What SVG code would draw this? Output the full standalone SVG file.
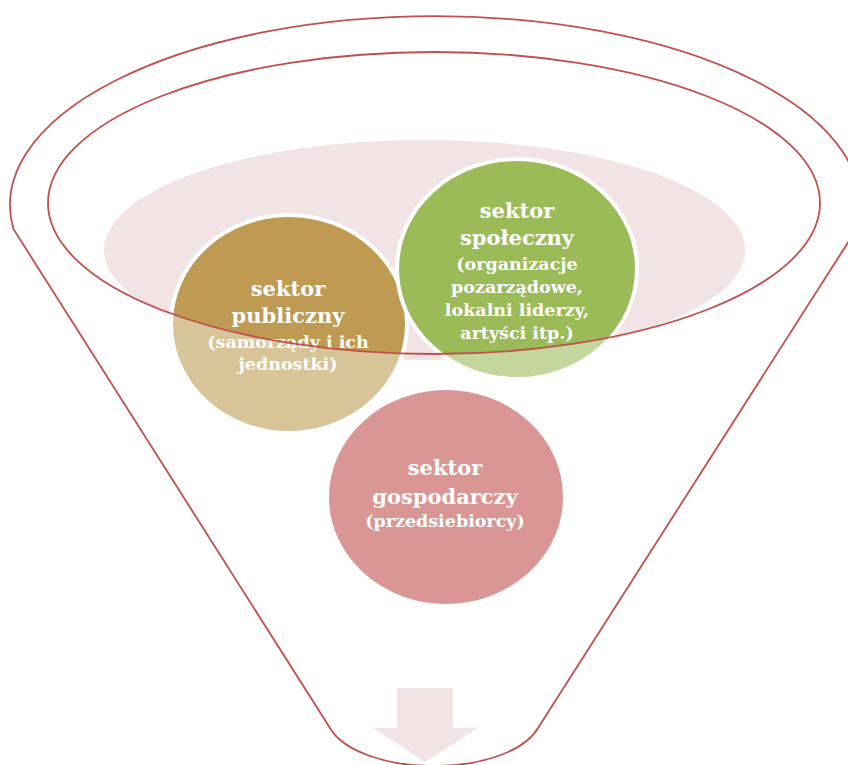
<svg xmlns="http://www.w3.org/2000/svg" width="848" height="765" viewBox="0 0 848 765">
  <style>
    .line { fill: none; stroke: #C0504D; stroke-width: 1.8; }
    .ring { fill: none; stroke: #FFFFFF; stroke-width: 4; }
    .t { font-family: "DejaVu Serif", "Liberation Serif", serif; font-weight: bold; fill: #FFFFFF; text-anchor: middle; }
    .h { font-size: 21px; }
    .s { font-size: 17.5px; }
  </style>
  <defs>
    <clipPath id="inner">
      <ellipse cx="434" cy="203" rx="386" ry="151"/>
    </clipPath>
  </defs>
  <rect width="848" height="765" fill="#FFFFFF"/>
  <g id="funnel">
    <path class="line" d="M13.4,229 A425,189 0 1 1 856.6,229 L538,728 C524,752 480,766 434,766 C388,766 344,752 330,728 Z"/>
  </g>
  <g id="pool">
    <ellipse cx="424.5" cy="250" rx="320.5" ry="110" fill="#F2E4E4"/>
  </g>
  <g id="node-publiczny">
    <ellipse cx="289" cy="324" rx="118" ry="109" fill="#D8C499"/>
    <ellipse cx="289" cy="324" rx="118" ry="109" fill="#BE9A52" clip-path="url(#inner)"/>
    <ellipse class="ring" cx="289" cy="324" rx="118" ry="109"/>
    <text class="t h" x="288" y="296">sektor</text>
    <text class="t h" x="288" y="323">publiczny</text>
    <text class="t s" x="288" y="348">(samorządy i ich</text>
    <text class="t s" x="288" y="370">jednostki)</text>
  </g>
  <g id="node-spoleczny">
    <ellipse cx="517" cy="269" rx="120" ry="110" fill="#C3D69B"/>
    <ellipse cx="517" cy="269" rx="120" ry="110" fill="#9BBB59" clip-path="url(#inner)"/>
    <ellipse class="ring" cx="517" cy="269" rx="120" ry="110"/>
    <text class="t h" x="517" y="218">sektor</text>
    <text class="t h" x="517" y="245">społeczny</text>
    <text class="t s" x="517" y="270">(organizacje</text>
    <text class="t s" x="517" y="293">pozarządowe,</text>
    <text class="t s" x="517" y="316">lokalni liderzy,</text>
    <text class="t s" x="517" y="339">artyści itp.)</text>
  </g>
  <g id="node-gospodarczy">
    <ellipse cx="446" cy="497" rx="119" ry="109" fill="#D99694"/>
    <ellipse class="ring" cx="446" cy="497" rx="119" ry="109"/>
    <text class="t h" x="445" y="475">sektor</text>
    <text class="t h" x="445" y="504">gospodarczy</text>
    <text class="t s" x="445" y="527">(przedsiebiorcy)</text>
  </g>
  <g id="connectors">
    <ellipse class="line" cx="434" cy="203" rx="386" ry="151"/>
    <path d="M397,688 L453,688 L453,728 L478,728 L425,762 L373,728 L397,728 Z" fill="#F2E4E4"/>
  </g>
</svg>
